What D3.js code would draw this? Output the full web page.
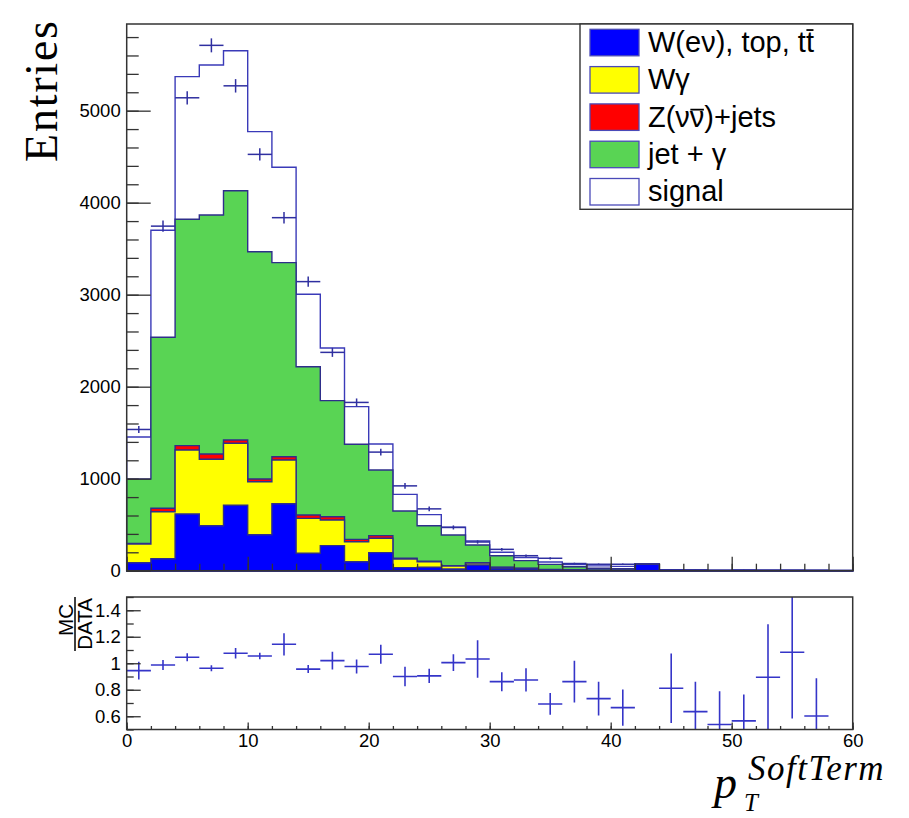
<!DOCTYPE html>
<html><head><meta charset="utf-8">
<script src="https://cdn.jsdelivr.net/npm/d3@7"></script>
<style>body{margin:0;background:#fff}svg{display:block}</style>
</head><body>
<div id="chart"></div>
<script>
// ---- data ----
const binLow = [0,2,4,6,8,10,12,14,16,18,20,22,24,26,28,30,32,34,36,38,40,42,44,46,48,50,52,54,56,58];
const binWidth = 2;
const wenu     = [87,130,616,489,711,391,728,189,272,98,196,33,37,18,62,22,18,8,5,3,3,70,2,2,1,1,1,1,1,1];
const wgamma   = [203,511,696,722,674,576,475,380,279,217,156,94,61,33,20,13,7,4,3,3,2,1,1,0,0,0,0,0,0,0];
const znunu    = [5,37,47,57,35,30,36,36,36,26,29,8,6,4,5,2,1,1,1,0,0,0,0,0,0,0,0,0,0,0];
const jetgamma = [702,1859,2461,2598,2710,2470,2109,1612,1261,1033,714,514,385,333,192,126,83,56,34,20,17,1,2,2,1,2,2,3,1,1];
const signal   = [456,1163,1550,1631,1522,1305,1037,787,572,409,282,181,121,84,43,37,34,26,24,26,25,1,3,1,1,1.5,1.5,1.4,1,1];
const dataVals = [1535,3745,5140,5710,5270,4525,3837,3142,2373,1829,1289,922,672,470,312,232,163,135,78,70,70,0,10,8,5,8,5,5,5,0];
const dataErr  = [39,61,72,76,73,67,62,56,49,43,36,30,26,22,18,15,13,12,9,8,8,0,3,3,2,3,2,2,2,0];
const ratio    = [0.944,0.987,1.045,0.962,1.075,1.055,1.143,0.956,1.02,0.975,1.068,0.90,0.905,1.005,1.032,0.861,0.874,0.693,0.861,0.733,0.665,null,0.811,0.635,0.538,0.565,0.894,1.083,0.602,null];
const ratioErr = [0.067,0.038,0.03,0.022,0.04,0.025,0.084,0.03,0.067,0.053,0.072,0.073,0.054,0.063,0.142,0.072,0.088,0.082,0.157,0.127,0.136,null,0.262,0.226,0.25,0.2,0.4,0.5,0.284,null];
const yTicksMain = [0,1000,2000,3000,4000,5000];
const yTicksRatio = [0.6,0.8,1,1.2,1.4];
const xTicks = [0,10,20,30,40,50,60];
const legendLabels = ["W(eν), top, tt","Wγ","Z(νν)+jets","jet + γ","signal"];
const colors = ["#0000ff","#ffff00","#ff0000","#59d454","#ffffff"];

// ---- layout ----
const W=909, H=818;
const svg = d3.select("#chart").append("svg").attr("width",W).attr("height",H);
const L=126.7, R=852.7, T1=24, B1=570.7, T2=597, B2=729.5;
const x = d3.scaleLinear().domain([0,60]).range([L,R]);
const y = d3.scaleLinear().domain([0,5942]).range([B1,T1]);
const y2 = d3.scaleLinear().domain([0.5,1.5]).range([B2,T2]);
const FONT = "'Liberation Sans', Arial, Helvetica, sans-serif";
const SERIF = "'Liberation Serif','Times New Roman',serif";
const AX = "#333";

// stacked layers
const comps = [wenu, wgamma, znunu, jetgamma, signal];
const cum = [];
comps.forEach((c,k)=>{ cum.push(c.map((v,i)=> v + (k>0?cum[k-1][i]:0))); });

function stepPath(vals){
  let p = `M${x(binLow[0])},${y(0)}`;
  vals.forEach((v,i)=>{ p += `L${x(binLow[i])},${y(v)}L${x(binLow[i]+binWidth)},${y(v)}`; });
  p += `L${x(binLow[binLow.length-1]+binWidth)},${y(0)}Z`;
  return p;
}
const gH = svg.append("g");
for(let k=comps.length-1;k>=0;k--){
  gH.append("path").attr("d",stepPath(cum[k]))
    .attr("fill",colors[k])
    .attr("stroke", k===4?"#3a3ab8":"#2e2e8a")
    .attr("stroke-width",1.4).attr("stroke-linejoin","miter");
}

// data points
const gD = svg.append("g").attr("stroke","#2f2fa0").attr("stroke-width",1.5);
dataVals.forEach((d,i)=>{
  if(d<=0) return;
  const cx = x(binLow[i]+binWidth/2);
  gD.append("line").attr("x1",x(binLow[i])).attr("x2",x(binLow[i]+binWidth)).attr("y1",y(d)).attr("y2",y(d));
  gD.append("line").attr("x1",cx).attr("x2",cx).attr("y1",y(d-dataErr[i])).attr("y2",y(d+dataErr[i]));
});

// upper axes
svg.append("g").attr("transform",`translate(${L},0)`)
  .call(d3.axisLeft(y).tickValues(d3.range(0,5942,200)).tickSize(-12).tickFormat(""))
  .call(g=>g.select(".domain").remove()).call(g=>g.selectAll("line").attr("stroke",AX).attr("stroke-width",1.3));
svg.append("g").attr("transform",`translate(${L},0)`)
  .call(d3.axisLeft(y).tickValues(yTicksMain).tickSize(-24).tickPadding(6).tickFormat(d3.format("d")))
  .call(g=>g.select(".domain").remove())
  .call(g=>g.selectAll("line").attr("stroke",AX).attr("stroke-width",1.3))
  .call(g=>g.selectAll("text").attr("font-family",FONT).attr("font-size",18.5).attr("fill","#000"));
svg.append("g").attr("transform",`translate(0,${B1})`)
  .call(d3.axisBottom(x).tickValues(d3.range(0,61,2)).tickSize(-7).tickFormat(""))
  .call(g=>g.select(".domain").remove()).call(g=>g.selectAll("line").attr("stroke",AX).attr("stroke-width",1.3));
svg.append("g").attr("transform",`translate(0,${B1})`)
  .call(d3.axisBottom(x).tickValues(xTicks).tickSize(-14).tickFormat(""))
  .call(g=>g.select(".domain").remove()).call(g=>g.selectAll("line").attr("stroke",AX).attr("stroke-width",1.3));
svg.append("rect").attr("x",L).attr("y",T1).attr("width",R-L).attr("height",B1-T1)
  .attr("fill","none").attr("stroke",AX).attr("stroke-width",1.5);

// Entries title
svg.append("text").attr("transform","translate(57,21) rotate(-90)")
  .attr("text-anchor","end").attr("font-family",SERIF)
  .attr("font-size",46).attr("textLength",141).attr("lengthAdjust","spacing").text("Entries");

// legend
const lg = svg.append("g");
lg.append("rect").attr("x",580).attr("y",T1).attr("width",R-580).attr("height",185.3)
  .attr("fill","#fff").attr("stroke",AX).attr("stroke-width",1.4);
legendLabels.forEach((lab,i)=>{
  const yy = 29.3 + 37.3*i;
  lg.append("rect").attr("x",590).attr("y",yy).attr("width",49).attr("height",26.5)
    .attr("fill",colors[i]).attr("stroke", "#4a4ab8").attr("stroke-width",1.3);
  const t = lg.append("text").attr("x",648).attr("y",yy+13.25+9.5)
    .attr("font-family",FONT).attr("font-size",29).attr("fill","#000").text(lab);
  const node = t.node();
  let idx = -1, xh = 0;
  if(i===0){ idx = lab.length-1; xh = 22; }
  if(i===2){ idx = 3; xh = 17; }
  if(idx>=0){
    const s = node.getStartPositionOfChar(idx), e = node.getEndPositionOfChar(idx);
    lg.append("line").attr("x1",s.x+0.5).attr("x2",e.x-0.5)
      .attr("y1",yy+13.25+9.5-xh).attr("y2",yy+13.25+9.5-xh)
      .attr("stroke","#000").attr("stroke-width",1.8);
  }
});

// ratio panel
svg.append("defs").append("clipPath").attr("id","clipR").append("rect")
  .attr("x",L).attr("y",T2).attr("width",R-L).attr("height",B2-T2);
const gR = svg.append("g").attr("clip-path","url(#clipR)").attr("stroke","#3535c8").attr("stroke-width",1.6);
ratio.forEach((r,i)=>{
  if(r==null) return;
  const cx = x(binLow[i]+binWidth/2);
  gR.append("line").attr("x1",x(binLow[i])).attr("x2",x(binLow[i]+binWidth)).attr("y1",y2(r)).attr("y2",y2(r));
  gR.append("line").attr("x1",cx).attr("x2",cx).attr("y1",y2(r-ratioErr[i])).attr("y2",y2(r+ratioErr[i]));
});
svg.append("g").attr("transform",`translate(${L},0)`)
  .call(d3.axisLeft(y2).tickValues(d3.range(5,16).map(v=>v/10)).tickSize(-7).tickFormat(""))
  .call(g=>g.select(".domain").remove()).call(g=>g.selectAll("line").attr("stroke",AX).attr("stroke-width",1.3));
svg.append("g").attr("transform",`translate(${L},0)`)
  .call(d3.axisLeft(y2).tickValues(yTicksRatio).tickSize(-14).tickPadding(6).tickFormat(v=>String(+v.toFixed(1))))
  .call(g=>g.select(".domain").remove())
  .call(g=>g.selectAll("line").attr("stroke",AX).attr("stroke-width",1.3))
  .call(g=>g.selectAll("text").attr("font-family",FONT).attr("font-size",18.5).attr("fill","#000"));
svg.append("g").attr("transform",`translate(0,${B2})`)
  .call(d3.axisBottom(x).tickValues(d3.range(0,61,2)).tickSize(-3.5).tickFormat(""))
  .call(g=>g.select(".domain").remove()).call(g=>g.selectAll("line").attr("stroke",AX).attr("stroke-width",1.3));
svg.append("g").attr("transform",`translate(0,${B2})`)
  .call(d3.axisBottom(x).tickValues(xTicks).tickSize(-7).tickPadding(4).tickFormat(d3.format("d")))
  .call(g=>g.select(".domain").remove())
  .call(g=>g.selectAll("line").attr("stroke",AX).attr("stroke-width",1.3))
  .call(g=>g.selectAll("text").attr("font-family",FONT).attr("font-size",18.5).attr("fill","#000"));
svg.append("rect").attr("x",L).attr("y",T2).attr("width",R-L).attr("height",B2-T2)
  .attr("fill","none").attr("stroke",AX).attr("stroke-width",1.5);

// ratio title MC / DATA
const rt = svg.append("g").attr("transform","translate(75,624) rotate(-90)")
  .attr("font-family",FONT).attr("font-size",20.5).attr("text-anchor","middle");
rt.append("text").attr("x",4).attr("y",-2.5).text("MC");
rt.append("text").attr("x",0).attr("y",17).text("DATA");
rt.append("line").attr("x1",-27).attr("x2",27).attr("y1",0).attr("y2",0).attr("stroke","#000").attr("stroke-width",1.5);

// x title p_T^{SoftTerm}
const xt = svg.append("g").attr("font-family",SERIF).attr("font-style","italic");
xt.append("text").attr("x",714).attr("y",798).attr("font-size",46).text("p");
xt.append("text").attr("x",744).attr("y",811).attr("font-size",25).text("T");
xt.append("text").attr("x",748).attr("y",780).attr("font-size",35).attr("letter-spacing",1.5).text("SoftTerm");
</script>
</body></html>
